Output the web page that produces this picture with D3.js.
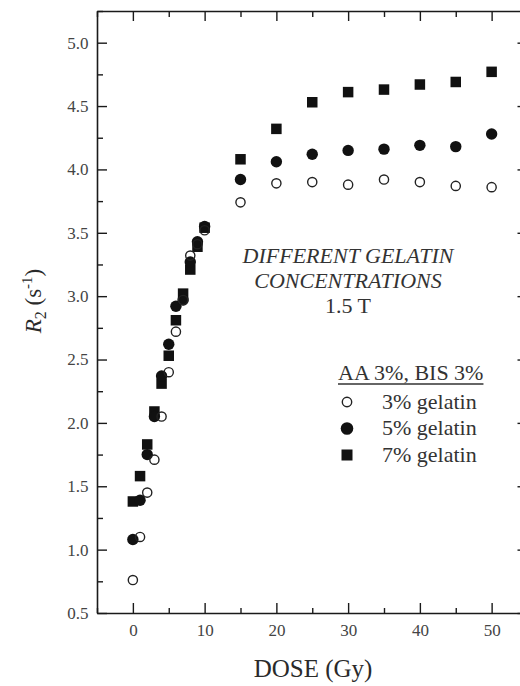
<!DOCTYPE html>
<html>
<head>
<meta charset="utf-8">
<script src="https://cdn.jsdelivr.net/npm/d3@7"></script>
<style>
  body { margin: 0; background: #fff; }
  text { font-family: "Liberation Serif", "Times New Roman", serif; }
</style>
</head>
<body>
<script>
// Data (R2 in s^-1 vs dose in Gy)
const doses = [0, 1, 2, 3, 4, 5, 6, 7, 8, 9, 10, 15, 20, 25, 30, 35, 40, 45, 50];
const gel3 = [0.76, 1.10, 1.45, 1.71, 2.05, 2.40, 2.72, 2.97, 3.32, 3.41, 3.52, 3.74, 3.89, 3.90, 3.88, 3.92, 3.90, 3.87, 3.86];
const gel5 = [1.08, 1.39, 1.75, 2.05, 2.37, 2.62, 2.92, 2.97, 3.27, 3.43, 3.55, 3.92, 4.06, 4.12, 4.15, 4.16, 4.19, 4.18, 4.28];
const gel7 = [1.38, 1.58, 1.83, 2.09, 2.31, 2.53, 2.81, 3.02, 3.21, 3.39, 3.54, 4.08, 4.32, 4.53, 4.61, 4.63, 4.67, 4.69, 4.77];

const xTicks = [0, 10, 20, 30, 40, 50];
const xMinor = [-5, 5, 15, 25, 35, 45, 55];
const yTicks = [0.5, 1.0, 1.5, 2.0, 2.5, 3.0, 3.5, 4.0, 4.5, 5.0];
const yMinor = [0.75, 1.25, 1.75, 2.25, 2.75, 3.25, 3.75, 4.25, 4.75, 5.25];

const legendTitle = "AA 3%, BIS 3%";
const seriesNames = ["3% gelatin", "5% gelatin", "7% gelatin"];
const noteLines = ["DIFFERENT GELATIN", "CONCENTRATIONS", "1.5 T"];

const width = 520, height = 686;
const margin = { left: 97, top: 11, right: -7.5, bottom: 73 };

const svg = d3.select("body").append("svg")
  .attr("width", width)
  .attr("height", height)
  .style("background", "#fff");

const x = d3.scaleLinear().domain([-5, 55]).range([margin.left, width - margin.right]);
const y = d3.scaleLinear().domain([0.5, 5.25]).range([height - margin.bottom, margin.top]);

const ink = "#1a1a1a";
const labelColor = "#444";

// axes: ticks point inwards
function styleAxis(g) {
  g.select(".domain").attr("stroke", ink).attr("stroke-width", 1.6);
  g.selectAll(".tick line").attr("stroke", ink).attr("stroke-width", 1.4);
  g.selectAll(".tick text")
    .attr("fill", labelColor)
    .style("font-size", "17px")
    .style("font-family", "'Liberation Serif', serif");
}

const plotBottom = y.range()[0], plotTop = y.range()[1];
const plotLeft = x.range()[0], plotRight = x.range()[1];

// bottom
svg.append("g").attr("transform", `translate(0,${plotBottom})`)
  .call(d3.axisBottom(x).tickValues(xTicks).tickSizeInner(-10).tickSizeOuter(0).tickPadding(11).tickFormat(d3.format("d")))
  .call(styleAxis);
svg.append("g").attr("transform", `translate(0,${plotBottom})`)
  .call(d3.axisBottom(x).tickValues(xMinor).tickSizeInner(-5).tickSizeOuter(0).tickFormat(""))
  .call(styleAxis).select(".domain").remove();

// top
svg.append("g").attr("transform", `translate(0,${plotTop})`)
  .call(d3.axisTop(x).tickValues(xTicks).tickSizeInner(-10).tickSizeOuter(0).tickFormat(""))
  .call(styleAxis);
svg.append("g").attr("transform", `translate(0,${plotTop})`)
  .call(d3.axisTop(x).tickValues(xMinor).tickSizeInner(-6).tickSizeOuter(0).tickFormat(""))
  .call(styleAxis).select(".domain").remove();

// left
svg.append("g").attr("transform", `translate(${plotLeft},0)`)
  .call(d3.axisLeft(y).tickValues(yTicks).tickSizeInner(-10).tickSizeOuter(0).tickPadding(8.5).tickFormat(d3.format(".1f")))
  .call(styleAxis);
svg.append("g").attr("transform", `translate(${plotLeft},0)`)
  .call(d3.axisLeft(y).tickValues(yMinor).tickSizeInner(-6).tickSizeOuter(0).tickFormat(""))
  .call(styleAxis).select(".domain").remove();

// right
svg.append("g").attr("transform", `translate(${plotRight},0)`)
  .call(d3.axisRight(y).tickValues(yTicks).tickSizeInner(-10).tickSizeOuter(0).tickFormat(""))
  .call(styleAxis);
svg.append("g").attr("transform", `translate(${plotRight},0)`)
  .call(d3.axisRight(y).tickValues(yMinor).tickSizeInner(-6).tickSizeOuter(0).tickFormat(""))
  .call(styleAxis).select(".domain").remove();

// axis titles
svg.append("text")
  .attr("x", 313)
  .attr("y", 677)
  .attr("text-anchor", "middle")
  .attr("fill", "#2a2a2a")
  .style("font-size", "25px")
  .text("DOSE (Gy)");

const yTitle = svg.append("text")
  .attr("transform", `translate(41,301) rotate(-90)`)
  .attr("text-anchor", "middle")
  .attr("fill", "#2a2a2a")
  .style("font-size", "23px");
yTitle.append("tspan").style("font-style", "italic").text("R");
yTitle.append("tspan").attr("dy", 5).style("font-size", "16px").text("2");
yTitle.append("tspan").attr("dy", -5).text(" (s");
yTitle.append("tspan").attr("dy", -9).style("font-size", "15px").text("-1");
yTitle.append("tspan").attr("dy", 9).text(")");

// data
const rows = doses.map((d, i) => ({ dose: d, g3: gel3[i], g5: gel5[i], g7: gel7[i] }));

const sq = 10.5;
svg.append("g").selectAll("rect")
  .data(rows).join("rect")
  .attr("x", d => x(d.dose) - sq / 2)
  .attr("y", d => y(d.g7) - sq / 2)
  .attr("width", sq).attr("height", sq)
  .attr("fill", "#111");

svg.append("g").selectAll("circle")
  .data(rows).join("circle")
  .attr("cx", d => x(d.dose))
  .attr("cy", d => y(d.g5))
  .attr("r", 5.7)
  .attr("fill", "#111");

svg.append("g").selectAll("circle")
  .data(rows).join("circle")
  .attr("cx", d => x(d.dose))
  .attr("cy", d => y(d.g3))
  .attr("r", 4.6)
  .attr("fill", "none")
  .attr("stroke", "#222")
  .attr("stroke-width", 1.4);

// annotation
const note = svg.append("g").attr("fill", "#333");
noteLines.forEach((t, i) => {
  note.append("text")
    .attr("x", 348)
    .attr("y", 263 + i * 25)
    .attr("text-anchor", "middle")
    .style("font-size", "22px")
    .style("font-style", i < 2 ? "italic" : "normal")
    .text(t);
});

// legend
const legend = svg.append("g").attr("fill", "#333");
const titleText = legend.append("text")
  .attr("x", 338)
  .attr("y", 380)
  .style("font-size", "22px")
  .text(legendTitle);
const tw = titleText.node().getComputedTextLength();
legend.append("line")
  .attr("x1", 338).attr("x2", 338 + tw)
  .attr("y1", 384).attr("y2", 384)
  .attr("stroke", "#333").attr("stroke-width", 1.4);

seriesNames.forEach((name, i) => {
  const cy = 402 + i * 26.5;
  if (i === 0) {
    legend.append("circle").attr("cx", 347).attr("cy", cy).attr("r", 4.7)
      .attr("fill", "none").attr("stroke", "#222").attr("stroke-width", 1.4);
  } else if (i === 1) {
    legend.append("circle").attr("cx", 347).attr("cy", cy).attr("r", 6.3).attr("fill", "#111");
  } else {
    legend.append("rect").attr("x", 347 - 5.5).attr("y", cy - 5.5).attr("width", 11).attr("height", 11).attr("fill", "#111");
  }
  legend.append("text")
    .attr("x", 382)
    .attr("y", cy + 6.5)
    .style("font-size", "22px")
    .text(name);
});
</script>
</body>
</html>
